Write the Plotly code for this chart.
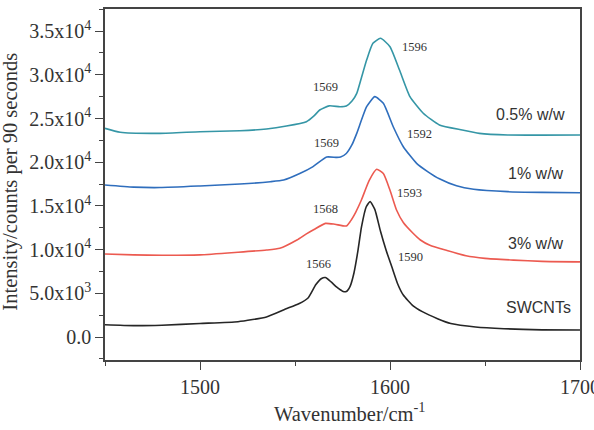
import plotly.graph_objects as go

# ---- data ----
swcnt_x = [1450, 1465, 1480, 1500, 1520, 1535, 1545, 1552, 1557, 1561, 1564, 1566, 1569, 1572, 1575, 1577, 1579,
           1581, 1583, 1585, 1587.5, 1589.5, 1592, 1595, 1598, 1601, 1604, 1607, 1612, 1617, 1625, 1632, 1645,
           1660, 1680, 1700]
swcnt_y = [1400, 1300, 1350, 1550, 1750, 2300, 3200, 3800, 4500, 6000, 6700, 6800, 6300, 5700, 5250, 5200, 5800,
           7300, 9700, 12600, 14900, 15500, 14600, 12100, 9900, 8000, 6100, 4800, 3600, 2900, 2100, 1550, 1150,
           950, 820, 800]

w3_x = [1450, 1465, 1480, 1500, 1520, 1535, 1542, 1551, 1556, 1560, 1566, 1571, 1577, 1579, 1582, 1585, 1589,
        1593, 1596.5, 1600, 1603.5, 1607, 1612, 1616, 1621, 1630, 1640, 1650, 1665, 1680, 1700]
w3_y = [9500, 9400, 9350, 9400, 9700, 9950, 10150, 11100, 11800, 12300, 13000, 12900, 12700, 13200, 14300, 15700,
        17900, 19200, 18700, 16800, 14500, 13100, 11900, 11100, 10500, 9900, 9300, 9000, 8800, 8650, 8600]

w1_x = [1450, 1465, 1479, 1500, 1521, 1537, 1544, 1552.5, 1559.5, 1566.7, 1572, 1574, 1577, 1580, 1582.5, 1587.7,
        1592, 1596.5, 1601.7, 1607, 1614, 1620, 1626, 1635, 1644, 1662, 1680, 1700]
w1_y = [17400, 17150, 17100, 17280, 17500, 17770, 17960, 18700, 19500, 20600, 20550, 20600, 21000, 22000, 23300,
        26350, 27500, 26740, 24060, 21770, 19870, 18900, 18100, 17300, 16900, 16630, 16550, 16510]

w05_x = [1450, 1458, 1479, 1500, 1521, 1535, 1545.5, 1556, 1560, 1563, 1568, 1573.7, 1577, 1580, 1582.5, 1585,
         1587.7, 1591, 1595, 1600, 1605, 1610.5, 1617.5, 1626, 1638, 1647, 1662, 1680, 1700]
w05_y = [23880, 23420, 23300, 23490, 23600, 23800, 24140, 24640, 25300, 25970, 26450, 26350, 26430, 27000, 27880,
         29700, 31690, 33600, 34180, 33220, 30550, 27500, 25600, 24260, 23680, 23300, 23110, 23100, 23110]

series_names = ["SWCNTs", "3% w/w", "1% w/w", "0.5% w/w"]
series_colors = ["#262626", "#ec5a50", "#2f6ebd", "#3596a6"]

y_tickvals = [0, 5000, 10000, 15000, 20000, 25000, 30000, 35000]
y_ticktext = ["0.0", "5.0x10<sup>3</sup>", "1.0x10<sup>4</sup>", "1.5x10<sup>4</sup>", "2.0x10<sup>4</sup>",
              "2.5x10<sup>4</sup>", "3.0x10<sup>4</sup>", "3.5x10<sup>4</sup>"]
x_tickvals = [1500, 1600, 1700]

peak_labels = ["1596", "1569", "1569", "1592", "1568", "1593", "1566", "1590"]
peak_label_x = [1613, 1566, 1566.7, 1615.4, 1565.8, 1610.5, 1562.3, 1611]
peak_label_y = [33150, 28570, 22230, 23190, 14650, 16510, 8350, 9190]

series_label_x = [1678.4, 1676.8, 1676.8, 1674.2]
series_label_y = [3400, 10720, 18730, 25515]

# ---- figure ----
fig = go.Figure()
for xs, ys, name, col in zip([swcnt_x, w3_x, w1_x, w05_x], [swcnt_y, w3_y, w1_y, w05_y],
                             series_names, series_colors):
    fig.add_trace(go.Scatter(x=xs, y=ys, mode="lines", name=name,
                             line=dict(color=col, width=1.6, shape="spline", smoothing=0.5)))

serif = "Liberation Serif, Times New Roman, serif"
sans = "Liberation Sans, Arial, sans-serif"

annotations = []
for t, ax, ay in zip(peak_labels, peak_label_x, peak_label_y):
    annotations.append(dict(x=ax, y=ay, xref="x", yref="y", text=t, showarrow=False,
                            font=dict(family=serif, size=12.5, color="#333")))
for t, ax, ay in zip(series_names, series_label_x, series_label_y):
    annotations.append(dict(x=ax, y=ay, xref="x", yref="y", text=t, showarrow=False,
                            font=dict(family=sans, size=16, color="#333")))
annotations.append(dict(x=-0.198, y=0.508, xref="paper", yref="paper", textangle=-90,
                        text="Intensity/counts per 90 seconds", showarrow=False,
                        xanchor="center", yanchor="middle",
                        font=dict(family=serif, size=20.5, color="#333")))
annotations.append(dict(x=0.5137, y=-0.147, xref="paper", yref="paper",
                        text="Wavenumber/cm<sup>-1</sup>", showarrow=False,
                        xanchor="center", yanchor="middle",
                        font=dict(family=serif, size=20.5, color="#333")))

fig.update_layout(
    width=594, height=430,
    margin=dict(l=105, r=14, t=9, b=70, autoexpand=False),
    paper_bgcolor="white", plot_bgcolor="white",
    showlegend=False,
    annotations=annotations,
    xaxis=dict(range=[1450, 1700], tickvals=x_tickvals, ticks="outside", ticklen=8, tickwidth=1.3,
               tickcolor="#444", showline=True, linecolor="#444", linewidth=1.5, mirror=True,
               showgrid=False, zeroline=False, ticklabeloverflow="allow", automargin=False,
               tickfont=dict(family=serif, size=20, color="#333"),
               minor=dict(tickvals=[1450, 1550, 1650], ticks="outside", ticklen=4, tickcolor="#444",
                          showgrid=False)),
    yaxis=dict(range=[-2630, 37530], tickvals=y_tickvals, ticktext=y_ticktext, ticks="outside", ticklen=8,
               tickwidth=1.3, tickcolor="#444", showline=True, linecolor="#444", linewidth=1.5, mirror=True,
               showgrid=False, zeroline=False, automargin=False,
               tickfont=dict(family=serif, size=20, color="#333"),
               minor=dict(tickvals=[-2500, 2500, 7500, 12500, 17500, 22500, 27500, 32500, 37500],
                          ticks="outside", ticklen=4, tickcolor="#444", showgrid=False)),
)

fig.write_html("out.html")
